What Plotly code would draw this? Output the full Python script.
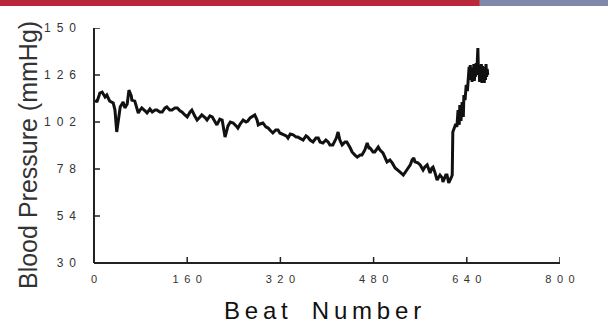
import plotly.graph_objects as go

# ---- data ----
beats = [2, 5, 9, 10, 14, 19, 22, 27, 33, 36, 39, 43, 45, 50, 53, 57, 60, 64, 65, 70,
         76, 79, 82, 88, 91, 96, 100, 105, 108, 113, 117, 122, 125, 130, 134, 139, 143, 148, 151, 156,
         160, 165, 168, 173, 177, 182, 185, 191, 194, 199, 203, 208, 211, 216, 220, 225, 228, 230, 234, 239,
         244, 247, 251, 256, 261, 264, 268, 271, 276, 280, 282, 285, 290, 295, 299, 302, 307, 312, 316, 319,
         325, 330, 333, 337, 342, 347, 350, 354, 359, 364, 367, 371, 376, 381, 385, 388, 393, 398, 402, 405,
         410, 416, 419, 422, 426, 431, 434, 440, 443, 448, 452, 457, 460, 465, 469, 472, 474, 479, 482, 488,
         491, 496, 500, 503, 508, 512, 517, 522, 525, 531, 534, 537, 543, 546, 549, 551, 556, 560, 565, 568,
         572, 577, 580, 582, 585, 589, 594, 598, 599, 604, 606, 609, 613, 615,
         616, 620, 621, 623, 625, 627, 628, 630, 632, 634, 635, 637, 639, 641, 642,
         644, 645, 646, 647, 648, 649, 650, 651, 652, 653, 654, 655, 656, 657, 658, 659, 660,
         661, 662, 663, 664, 665, 666, 667, 668, 669, 670, 671, 672, 673, 674, 675, 676]

pressure = [113.2, 112.2, 115.8, 116.8, 117.3, 114.8, 115.8, 112.7, 111.7, 108.1, 96.9, 107.1, 109.7, 112.2, 109.2, 111.2, 118.3, 115.3, 113.2, 112.7,
            106.6, 108.1, 109.2, 107.6, 106.6, 108.6, 107.1, 108.1, 108.1, 107.1, 107.1, 109.2, 109.7, 108.1, 108.1, 109.2, 109.2, 107.6, 107.1, 105.6,
            104.6, 107.1, 108.1, 105.1, 103.0, 104.6, 105.6, 104.1, 103.0, 105.1, 104.6, 102.0, 100.5, 103.5, 103.0, 94.3, 97.9, 100.0, 102.0, 101.5,
            100.0, 98.9, 101.0, 103.0, 102.0, 102.5, 104.1, 104.6, 105.6, 103.0, 100.5, 101.0, 101.5, 99.5, 98.9, 97.9, 96.4, 97.9, 97.9, 96.4,
            95.4, 94.9, 93.8, 95.9, 95.4, 94.3, 94.3, 93.8, 92.8, 94.9, 94.3, 92.8, 91.8, 93.8, 93.8, 91.8, 91.3, 92.8, 91.8, 90.3,
            90.3, 93.8, 96.9, 92.8, 90.3, 91.8, 91.8, 88.7, 86.7, 85.1, 84.1, 85.1, 85.1, 87.7, 91.3, 88.7, 88.7, 86.7, 86.7, 89.2,
            87.7, 86.2, 83.6, 81.6, 82.6, 81.1, 78.5, 77.5, 76.5, 74.9, 76.0, 77.5, 80.1, 82.6, 83.6, 81.6, 81.1, 80.1, 77.5, 79.0,
            80.1, 76.0, 78.5, 79.0, 76.5, 72.4, 74.9, 73.4, 71.4, 74.9, 74.9, 70.9, 73.4, 74.9,
            96.9, 99.5, 101.0, 99.5, 108.1, 100.5, 110.7, 102.5, 112.2, 104.6, 115.8, 113.2, 120.9, 117.8, 124.5,
            130.1, 123.5, 131.1, 124.5, 129.6, 122.5, 128.5, 124.0, 131.6, 123.0, 130.1, 125.0, 132.1, 126.0, 133.0, 139.8, 126.5,
            131.1, 122.5, 129.6, 124.0, 131.6, 122.0, 130.6, 124.5, 128.5, 121.9, 130.1, 123.5, 131.6, 125.0, 129.1, 126.0]

y_ticks = [30, 54, 78, 102, 126, 150]
y_ticktext = ["3\u20020", "5\u20024", "7\u20028", "1\u20020\u20022", "1\u20022\u20026", "1\u20025\u20020"]
x_ticks = [0, 160, 320, 480, 640, 800]
x_ticktext = ["0", "1\u20026\u20020", "3\u20022\u20020", "4\u20028\u20020", "6\u20024\u20020", "8\u20020\u20020"]

x_title = "B\u2009e\u2009a\u2009t\u2002\u2002N\u2009u\u2009m\u2009b\u2009e\u2009r"
y_title = "Blood Pressure (mmHg)"

X_MIN, X_MAX = 0, 800
Y_MIN, Y_MAX = 30, 150
AXIS_COLOR = "#222222"

fig = go.Figure()
fig.add_trace(go.Scatter(x=beats, y=pressure, mode="lines",
                         line=dict(color="#111111", width=3), showlegend=False))

font_main = "Liberation Sans, Arial, sans-serif"

shapes = [
    # decorative band along the top of the slide
    dict(type="rect", xref="paper", yref="paper", x0=-0.21, x1=0.828, y0=1.0936, y1=1.125,
         fillcolor="#b8283a", line=dict(width=0), layer="above"),
    dict(type="rect", xref="paper", yref="paper", x0=0.828, x1=1.11, y0=1.0936, y1=1.125,
         fillcolor="#7d88aa", line=dict(width=0), layer="above"),
    # axis lines
    dict(type="line", xref="paper", yref="paper", x0=0, x1=0, y0=0, y1=1,
         line=dict(color=AXIS_COLOR, width=2), layer="above"),
    dict(type="line", xref="paper", yref="paper", x0=0, x1=1, y0=0, y1=0,
         line=dict(color=AXIS_COLOR, width=2), layer="above"),
]
# inward tick marks (pixel length) at the tick values
for v in y_ticks:
    shapes.append(dict(type="line", xref="x", yref="y", xsizemode="pixel", xanchor=X_MIN,
                       x0=0, x1=6, y0=v, y1=v, line=dict(color=AXIS_COLOR, width=1.5), layer="above"))
for v in x_ticks[1:]:
    shapes.append(dict(type="line", xref="x", yref="y", ysizemode="pixel", yanchor=Y_MIN,
                       y0=0, y1=6, x0=v, x1=v, line=dict(color=AXIS_COLOR, width=1.5), layer="above"))

annotations = [
    dict(text=x_title, xref="paper", yref="paper", x=0.4914, y=-0.20, xanchor="center", yanchor="middle",
         showarrow=False, font=dict(size=24, color="#111111")),
    dict(text=y_title, xref="paper", yref="paper", x=-0.1416, y=0.4596, xanchor="center", yanchor="middle",
         textangle=-90, showarrow=False, font=dict(size=25, color="#333333")),
]

fig.update_layout(
    width=608, height=326,
    margin=dict(l=94, r=48, t=28, b=63),
    paper_bgcolor="white", plot_bgcolor="white",
    font=dict(family=font_main, color="#222222"),
    xaxis=dict(range=[X_MIN, X_MAX], tickvals=x_ticks, ticktext=x_ticktext,
               showgrid=False, zeroline=False, showline=False, ticks="",
               tickfont=dict(size=11, color="#333333"), ticklabelstandoff=8),
    yaxis=dict(range=[Y_MIN, Y_MAX], tickvals=y_ticks, ticktext=y_ticktext,
               showgrid=False, zeroline=False, showline=False, ticks="",
               tickfont=dict(size=12, color="#333333"), ticklabelstandoff=17),
    shapes=shapes,
    annotations=annotations,
)

fig.write_html("out.html", config={"displayModeBar": False},
               post_script="document.body.style.margin='0';document.body.style.overflow='hidden';")
